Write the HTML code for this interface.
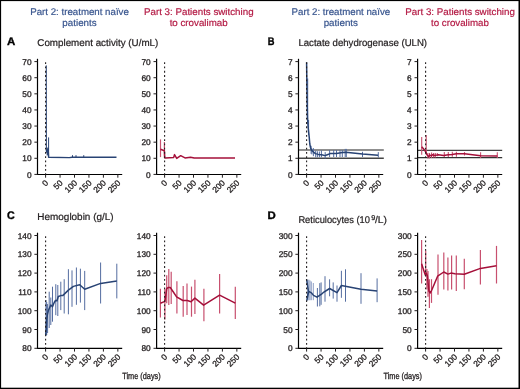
<!DOCTYPE html>
<html><head><meta charset="utf-8"><style>
html,body{margin:0;padding:0;background:#fff;}
svg{display:block;font-family:"Liberation Sans", sans-serif;will-change:transform;text-rendering:geometricPrecision;}
</style></head><body>
<svg width="520" height="389" viewBox="0 0 520 389">
<rect width="520" height="389" fill="#fff"/>
<text x="30.26" y="14.85" font-size="9.7" fill="#38558e" font-weight="normal" textLength="98.58" lengthAdjust="spacingAndGlyphs" stroke="#38558e" stroke-width="0.2">Part 2: treatment naïve</text>
<text x="62.37" y="26.40" font-size="9.7" fill="#38558e" font-weight="normal" textLength="34.28" lengthAdjust="spacingAndGlyphs" stroke="#38558e" stroke-width="0.2">patients</text>
<text x="144.00" y="14.90" font-size="9.7" fill="#b41b45" font-weight="normal" textLength="109.58" lengthAdjust="spacingAndGlyphs" stroke="#b41b45" stroke-width="0.2">Part 3: Patients switching</text>
<text x="169.65" y="26.25" font-size="9.7" fill="#b41b45" font-weight="normal" textLength="57.96" lengthAdjust="spacingAndGlyphs" stroke="#b41b45" stroke-width="0.2">to crovalimab</text>
<text x="291.56" y="14.85" font-size="9.7" fill="#38558e" font-weight="normal" textLength="98.58" lengthAdjust="spacingAndGlyphs" stroke="#38558e" stroke-width="0.2">Part 2: treatment naïve</text>
<text x="323.67" y="26.40" font-size="9.7" fill="#38558e" font-weight="normal" textLength="34.28" lengthAdjust="spacingAndGlyphs" stroke="#38558e" stroke-width="0.2">patients</text>
<text x="405.30" y="14.90" font-size="9.7" fill="#b41b45" font-weight="normal" textLength="109.58" lengthAdjust="spacingAndGlyphs" stroke="#b41b45" stroke-width="0.2">Part 3: Patients switching</text>
<text x="430.95" y="26.25" font-size="9.7" fill="#b41b45" font-weight="normal" textLength="57.96" lengthAdjust="spacingAndGlyphs" stroke="#b41b45" stroke-width="0.2">to crovalimab</text>
<text x="7.11" y="45.20" font-size="11" fill="#000" font-weight="bold" textLength="8.29" lengthAdjust="spacingAndGlyphs" stroke="#000" stroke-width="0.35">A</text>
<text x="267.77" y="45.20" font-size="11" fill="#000" font-weight="bold" textLength="6.75" lengthAdjust="spacingAndGlyphs" stroke="#000" stroke-width="0.35">B</text>
<text x="6.96" y="219.00" font-size="11" fill="#000" font-weight="bold" textLength="7.73" lengthAdjust="spacingAndGlyphs" stroke="#000" stroke-width="0.35">C</text>
<text x="267.64" y="219.00" font-size="11" fill="#000" font-weight="bold" textLength="8.24" lengthAdjust="spacingAndGlyphs" stroke="#000" stroke-width="0.35">D</text>
<text x="37.30" y="46.00" font-size="9.8" fill="#231f20" font-weight="normal" textLength="121.01" lengthAdjust="spacingAndGlyphs" stroke="#231f20" stroke-width="0.22">Complement activity (U/mL)</text>
<text x="298.41" y="46.00" font-size="9.8" fill="#231f20" font-weight="normal" textLength="128.63" lengthAdjust="spacingAndGlyphs" stroke="#231f20" stroke-width="0.22">Lactate dehydrogenase (ULN)</text>
<text x="37.39" y="219.60" font-size="9.8" fill="#231f20" font-weight="normal" textLength="76.18" lengthAdjust="spacingAndGlyphs" stroke="#231f20" stroke-width="0.22">Hemoglobin (g/L)</text>
<text x="298.38" y="223.10" font-size="9.8" fill="#231f20" font-weight="normal" textLength="71.58" lengthAdjust="spacingAndGlyphs" stroke="#231f20" stroke-width="0.22">Reticulocytes (10</text>
<text x="371.35" y="220.30" font-size="7.0" fill="#231f20" font-weight="normal" textLength="4.09" lengthAdjust="spacingAndGlyphs" stroke="#231f20" stroke-width="0.22">9</text>
<text x="374.90" y="223.10" font-size="9.8" fill="#231f20" font-weight="normal" textLength="12.04" lengthAdjust="spacingAndGlyphs" stroke="#231f20" stroke-width="0.22">/L)</text>
<text x="122.24" y="379.40" font-size="9.0" fill="#231f20" font-weight="normal" textLength="38.41" lengthAdjust="spacingAndGlyphs" stroke="#231f20" stroke-width="0.3">Time (days)</text>
<text x="383.54" y="379.40" font-size="9.0" fill="#231f20" font-weight="normal" textLength="38.41" lengthAdjust="spacingAndGlyphs" stroke="#231f20" stroke-width="0.3">Time (days)</text>
<line x1="48.60" y1="137.40" x2="48.60" y2="156.30" stroke="#284374" stroke-width="1.0" stroke-opacity="1.0"/>
<line x1="47.20" y1="148.50" x2="47.20" y2="155.50" stroke="#284374" stroke-width="1.0" stroke-opacity="1.0"/>
<line x1="47.80" y1="147.50" x2="47.80" y2="155.00" stroke="#284374" stroke-width="1.0" stroke-opacity="1.0"/>
<line x1="72.50" y1="155.20" x2="72.50" y2="157.50" stroke="#284374" stroke-width="1.0" stroke-opacity="1.0"/>
<line x1="76.00" y1="155.20" x2="76.00" y2="157.50" stroke="#284374" stroke-width="1.0" stroke-opacity="1.0"/>
<line x1="83.75" y1="155.20" x2="83.75" y2="157.50" stroke="#284374" stroke-width="1.0" stroke-opacity="1.0"/>
<polyline points="46.30,65.40 46.40,150.00" fill="none" stroke="#284374" stroke-width="1.0" stroke-linejoin="round" stroke-linecap="butt"/>
<polyline points="46.40,150.00 46.60,152.00 47.30,150.50 47.80,153.50 48.20,149.00 48.60,157.30 69.40,157.60 72.00,157.20 116.50,157.30" fill="none" stroke="#284374" stroke-width="1.4" stroke-linejoin="round" stroke-linecap="butt"/>
<line x1="160.50" y1="139.40" x2="160.50" y2="157.10" stroke="#c8506f" stroke-width="1.2" stroke-opacity="1.0"/>
<line x1="164.40" y1="142.00" x2="164.40" y2="157.90" stroke="#c8506f" stroke-width="1.2" stroke-opacity="1.0"/>
<polyline points="160.50,149.20 164.40,150.70 164.80,158.00 165.40,158.10 173.70,157.40 174.50,154.60 176.70,158.40 180.70,155.70 185.00,157.90 190.60,157.20 194.20,158.10 235.00,158.10" fill="none" stroke="#a5103a" stroke-width="1.5" stroke-linejoin="round" stroke-linecap="butt"/>
<line x1="298.40" y1="149.90" x2="383.80" y2="149.90" stroke="#6a6a6a" stroke-width="1.5" />
<line x1="298.40" y1="158.30" x2="383.80" y2="158.30" stroke="#454545" stroke-width="1.4" />
<line x1="417.70" y1="150.30" x2="502.20" y2="150.30" stroke="#444444" stroke-width="1.2" />
<line x1="417.70" y1="157.60" x2="502.20" y2="157.60" stroke="#333333" stroke-width="1.2" />
<line x1="307.70" y1="78.50" x2="307.70" y2="122.00" stroke="#546da0" stroke-width="1.0" stroke-opacity="1.0"/>
<line x1="308.60" y1="120.00" x2="308.60" y2="135.00" stroke="#546da0" stroke-width="1.0" stroke-opacity="1.0"/>
<line x1="311.10" y1="145.80" x2="311.10" y2="153.80" stroke="#546da0" stroke-width="1.0" stroke-opacity="1.0"/>
<line x1="311.90" y1="148.70" x2="311.90" y2="154.40" stroke="#546da0" stroke-width="1.0" stroke-opacity="1.0"/>
<line x1="313.40" y1="148.10" x2="313.40" y2="156.20" stroke="#546da0" stroke-width="1.0" stroke-opacity="1.0"/>
<line x1="315.70" y1="150.70" x2="315.70" y2="157.30" stroke="#546da0" stroke-width="1.0" stroke-opacity="1.0"/>
<line x1="317.40" y1="151.25" x2="317.40" y2="157.30" stroke="#546da0" stroke-width="1.0" stroke-opacity="1.0"/>
<line x1="319.40" y1="151.50" x2="319.40" y2="157.30" stroke="#546da0" stroke-width="1.0" stroke-opacity="1.0"/>
<line x1="321.40" y1="150.40" x2="321.40" y2="157.30" stroke="#546da0" stroke-width="1.0" stroke-opacity="1.0"/>
<line x1="325.20" y1="152.10" x2="325.20" y2="158.50" stroke="#546da0" stroke-width="1.0" stroke-opacity="1.0"/>
<line x1="329.60" y1="150.10" x2="329.60" y2="157.00" stroke="#546da0" stroke-width="1.0" stroke-opacity="1.0"/>
<line x1="333.70" y1="150.10" x2="333.70" y2="157.00" stroke="#546da0" stroke-width="1.0" stroke-opacity="1.0"/>
<line x1="336.50" y1="150.10" x2="336.50" y2="157.00" stroke="#546da0" stroke-width="1.0" stroke-opacity="1.0"/>
<line x1="340.00" y1="150.10" x2="340.00" y2="157.00" stroke="#546da0" stroke-width="1.0" stroke-opacity="1.0"/>
<line x1="342.30" y1="150.10" x2="342.30" y2="157.00" stroke="#546da0" stroke-width="1.0" stroke-opacity="1.0"/>
<line x1="345.20" y1="148.90" x2="345.20" y2="157.00" stroke="#546da0" stroke-width="1.0" stroke-opacity="1.0"/>
<line x1="346.30" y1="148.90" x2="346.30" y2="157.00" stroke="#546da0" stroke-width="1.0" stroke-opacity="1.0"/>
<line x1="362.50" y1="151.80" x2="362.50" y2="157.00" stroke="#546da0" stroke-width="1.0" stroke-opacity="1.0"/>
<line x1="378.30" y1="152.10" x2="378.30" y2="157.60" stroke="#546da0" stroke-width="1.0" stroke-opacity="1.0"/>
<polyline points="306.60,62.20 306.80,78.00 307.10,100.00 307.50,118.00 308.20,128.00 309.20,137.00 309.80,144.00 310.50,147.50 311.30,149.80 312.50,151.25 313.90,152.40 315.40,153.60 318.30,154.40 321.70,154.70 325.00,155.60 327.30,154.70 330.20,153.60 336.50,153.50 342.30,152.40 345.80,152.20 362.50,154.10 378.10,155.30" fill="none" stroke="#284374" stroke-width="1.5" stroke-linejoin="round" stroke-linecap="butt"/>
<line x1="421.70" y1="137.00" x2="421.70" y2="154.70" stroke="#c8506f" stroke-width="1.1" stroke-opacity="1.0"/>
<line x1="426.20" y1="134.90" x2="426.20" y2="154.70" stroke="#c8506f" stroke-width="1.1" stroke-opacity="1.0"/>
<line x1="427.90" y1="153.00" x2="427.90" y2="158.40" stroke="#c8506f" stroke-width="1.1" stroke-opacity="1.0"/>
<line x1="429.50" y1="153.00" x2="429.50" y2="158.40" stroke="#c8506f" stroke-width="1.1" stroke-opacity="1.0"/>
<line x1="431.60" y1="152.60" x2="431.60" y2="157.90" stroke="#c8506f" stroke-width="1.1" stroke-opacity="1.0"/>
<line x1="433.60" y1="153.00" x2="433.60" y2="157.50" stroke="#c8506f" stroke-width="1.1" stroke-opacity="1.0"/>
<line x1="435.30" y1="153.00" x2="435.30" y2="157.50" stroke="#c8506f" stroke-width="1.1" stroke-opacity="1.0"/>
<line x1="437.30" y1="153.00" x2="437.30" y2="156.30" stroke="#c8506f" stroke-width="1.1" stroke-opacity="1.0"/>
<line x1="444.30" y1="152.10" x2="444.30" y2="157.10" stroke="#c8506f" stroke-width="1.1" stroke-opacity="1.0"/>
<line x1="448.30" y1="152.10" x2="448.30" y2="157.10" stroke="#c8506f" stroke-width="1.1" stroke-opacity="1.0"/>
<line x1="452.30" y1="151.70" x2="452.30" y2="156.70" stroke="#c8506f" stroke-width="1.1" stroke-opacity="1.0"/>
<line x1="456.40" y1="151.70" x2="456.40" y2="156.70" stroke="#c8506f" stroke-width="1.1" stroke-opacity="1.0"/>
<line x1="464.50" y1="152.10" x2="464.50" y2="155.50" stroke="#c8506f" stroke-width="1.1" stroke-opacity="1.0"/>
<line x1="480.60" y1="152.30" x2="480.60" y2="158.00" stroke="#c8506f" stroke-width="1.1" stroke-opacity="1.0"/>
<line x1="497.30" y1="152.30" x2="497.30" y2="158.00" stroke="#c8506f" stroke-width="1.1" stroke-opacity="1.0"/>
<polyline points="421.70,146.90 423.30,148.50 425.40,151.40 426.60,153.80 427.50,155.50 428.70,156.30 429.90,155.10 431.20,155.90 432.80,154.70 434.40,155.50 436.90,155.10 438.30,154.80 443.70,155.40 448.30,154.80 452.20,154.40 456.40,153.80 464.50,153.80 480.60,155.80 497.30,156.00" fill="none" stroke="#a5103a" stroke-width="1.5" stroke-linejoin="round" stroke-linecap="butt"/>
<line x1="46.00" y1="300.00" x2="46.00" y2="336.00" stroke="#546da0" stroke-width="1.0" stroke-opacity="1.0"/>
<line x1="46.70" y1="302.00" x2="46.70" y2="335.00" stroke="#546da0" stroke-width="1.0" stroke-opacity="1.0"/>
<line x1="47.60" y1="304.00" x2="47.60" y2="333.00" stroke="#546da0" stroke-width="1.0" stroke-opacity="1.0"/>
<line x1="49.20" y1="291.70" x2="49.20" y2="328.00" stroke="#546da0" stroke-width="1.0" stroke-opacity="1.0"/>
<line x1="50.80" y1="297.50" x2="50.80" y2="325.00" stroke="#546da0" stroke-width="1.0" stroke-opacity="1.0"/>
<line x1="52.50" y1="286.70" x2="52.50" y2="321.70" stroke="#546da0" stroke-width="1.0" stroke-opacity="1.0"/>
<line x1="55.80" y1="284.20" x2="55.80" y2="315.20" stroke="#546da0" stroke-width="1.0" stroke-opacity="1.0"/>
<line x1="57.80" y1="285.00" x2="57.80" y2="316.00" stroke="#546da0" stroke-width="1.0" stroke-opacity="1.0"/>
<line x1="60.80" y1="281.70" x2="60.80" y2="310.10" stroke="#546da0" stroke-width="1.0" stroke-opacity="1.0"/>
<line x1="64.20" y1="279.20" x2="64.20" y2="313.50" stroke="#546da0" stroke-width="1.0" stroke-opacity="1.0"/>
<line x1="68.40" y1="269.20" x2="68.40" y2="314.30" stroke="#546da0" stroke-width="1.0" stroke-opacity="1.0"/>
<line x1="72.00" y1="270.40" x2="72.00" y2="306.80" stroke="#546da0" stroke-width="1.0" stroke-opacity="1.0"/>
<line x1="76.40" y1="267.50" x2="76.40" y2="304.80" stroke="#546da0" stroke-width="1.0" stroke-opacity="1.0"/>
<line x1="80.40" y1="268.70" x2="80.40" y2="302.60" stroke="#546da0" stroke-width="1.0" stroke-opacity="1.0"/>
<line x1="84.70" y1="270.90" x2="84.70" y2="310.10" stroke="#546da0" stroke-width="1.0" stroke-opacity="1.0"/>
<line x1="100.60" y1="262.50" x2="100.60" y2="303.50" stroke="#546da0" stroke-width="1.0" stroke-opacity="1.0"/>
<line x1="116.80" y1="263.70" x2="116.80" y2="298.40" stroke="#546da0" stroke-width="1.0" stroke-opacity="1.0"/>
<polyline points="45.70,335.00 46.20,328.00 46.70,320.00 47.50,314.00 48.30,310.80 49.20,308.50 50.80,305.00 52.50,306.70 54.20,302.50 55.50,300.50 57.00,300.80 58.30,296.50 60.80,295.60 63.00,295.40 68.40,290.10 73.40,286.40 79.70,284.70 84.70,289.30 100.60,283.40 116.80,280.90" fill="none" stroke="#284374" stroke-width="1.5" stroke-linejoin="round" stroke-linecap="butt"/>
<line x1="160.40" y1="288.80" x2="160.40" y2="317.60" stroke="#c8506f" stroke-width="1.2" stroke-opacity="1.0"/>
<line x1="164.90" y1="288.80" x2="164.90" y2="319.40" stroke="#c8506f" stroke-width="1.2" stroke-opacity="1.0"/>
<line x1="166.70" y1="275.30" x2="166.70" y2="303.20" stroke="#c8506f" stroke-width="1.2" stroke-opacity="1.0"/>
<line x1="168.80" y1="269.00" x2="168.80" y2="305.00" stroke="#c8506f" stroke-width="1.2" stroke-opacity="1.0"/>
<line x1="171.20" y1="271.70" x2="171.20" y2="304.10" stroke="#c8506f" stroke-width="1.2" stroke-opacity="1.0"/>
<line x1="176.90" y1="281.20" x2="176.90" y2="313.60" stroke="#c8506f" stroke-width="1.2" stroke-opacity="1.0"/>
<line x1="183.20" y1="286.10" x2="183.20" y2="316.70" stroke="#c8506f" stroke-width="1.2" stroke-opacity="1.0"/>
<line x1="187.00" y1="283.40" x2="187.00" y2="314.90" stroke="#c8506f" stroke-width="1.2" stroke-opacity="1.0"/>
<line x1="191.50" y1="286.60" x2="191.50" y2="316.70" stroke="#c8506f" stroke-width="1.2" stroke-opacity="1.0"/>
<line x1="194.90" y1="279.80" x2="194.90" y2="314.00" stroke="#c8506f" stroke-width="1.2" stroke-opacity="1.0"/>
<line x1="203.90" y1="288.80" x2="203.90" y2="321.20" stroke="#c8506f" stroke-width="1.2" stroke-opacity="1.0"/>
<line x1="219.60" y1="273.90" x2="219.60" y2="313.40" stroke="#c8506f" stroke-width="1.2" stroke-opacity="1.0"/>
<line x1="235.30" y1="286.70" x2="235.30" y2="318.90" stroke="#c8506f" stroke-width="1.2" stroke-opacity="1.0"/>
<polyline points="160.40,303.20 164.90,301.40 166.70,288.80 168.30,287.40 170.20,287.40 173.00,291.50 176.60,296.90 182.90,300.50 187.40,300.50 191.00,301.70 194.90,298.10 203.60,305.20 219.60,295.10 235.30,303.10" fill="none" stroke="#a5103a" stroke-width="1.5" stroke-linejoin="round" stroke-linecap="butt"/>
<line x1="307.80" y1="279.70" x2="307.80" y2="300.20" stroke="#7f93bd" stroke-width="0.9" stroke-opacity="1.0"/>
<line x1="308.90" y1="279.70" x2="308.90" y2="300.20" stroke="#7f93bd" stroke-width="0.9" stroke-opacity="1.0"/>
<line x1="310.00" y1="280.50" x2="310.00" y2="300.20" stroke="#7f93bd" stroke-width="0.9" stroke-opacity="1.0"/>
<line x1="311.30" y1="281.50" x2="311.30" y2="300.20" stroke="#7f93bd" stroke-width="0.9" stroke-opacity="1.0"/>
<line x1="313.30" y1="283.00" x2="313.30" y2="300.20" stroke="#7f93bd" stroke-width="0.9" stroke-opacity="1.0"/>
<line x1="317.40" y1="288.00" x2="317.40" y2="306.50" stroke="#546da0" stroke-width="1.0" stroke-opacity="1.0"/>
<line x1="319.80" y1="283.10" x2="319.80" y2="306.30" stroke="#546da0" stroke-width="1.0" stroke-opacity="1.0"/>
<line x1="321.10" y1="282.40" x2="321.10" y2="304.80" stroke="#546da0" stroke-width="1.0" stroke-opacity="1.0"/>
<line x1="325.00" y1="276.20" x2="325.00" y2="301.70" stroke="#546da0" stroke-width="1.0" stroke-opacity="1.0"/>
<line x1="329.60" y1="279.30" x2="329.60" y2="296.30" stroke="#546da0" stroke-width="1.0" stroke-opacity="1.0"/>
<line x1="333.20" y1="282.40" x2="333.20" y2="298.60" stroke="#546da0" stroke-width="1.0" stroke-opacity="1.0"/>
<line x1="337.00" y1="285.50" x2="337.00" y2="301.70" stroke="#546da0" stroke-width="1.0" stroke-opacity="1.0"/>
<line x1="341.40" y1="270.80" x2="341.40" y2="297.80" stroke="#546da0" stroke-width="1.0" stroke-opacity="1.0"/>
<line x1="345.50" y1="269.30" x2="345.50" y2="301.70" stroke="#546da0" stroke-width="1.0" stroke-opacity="1.0"/>
<line x1="361.00" y1="273.20" x2="361.00" y2="303.80" stroke="#546da0" stroke-width="1.0" stroke-opacity="1.0"/>
<line x1="377.10" y1="278.40" x2="377.10" y2="302.20" stroke="#546da0" stroke-width="1.0" stroke-opacity="1.0"/>
<polyline points="306.60,279.50 308.40,291.00 306.90,300.20 308.70,291.50 310.00,292.00 311.70,293.20 313.50,295.40 317.00,297.20 321.50,294.20 323.10,292.70 329.60,288.50 337.00,292.70 341.40,285.50 361.00,289.30 377.10,290.90" fill="none" stroke="#284374" stroke-width="1.5" stroke-linejoin="round" stroke-linecap="butt"/>
<line x1="421.60" y1="240.10" x2="421.60" y2="283.40" stroke="#c8506f" stroke-width="1.2" stroke-opacity="1.0"/>
<line x1="425.70" y1="250.40" x2="425.70" y2="276.20" stroke="#c8506f" stroke-width="1.2" stroke-opacity="1.0"/>
<line x1="426.90" y1="269.00" x2="426.90" y2="289.50" stroke="#c8506f" stroke-width="1.2" stroke-opacity="1.0"/>
<line x1="428.00" y1="271.00" x2="428.00" y2="296.70" stroke="#c8506f" stroke-width="1.2" stroke-opacity="1.0"/>
<line x1="429.40" y1="279.20" x2="429.40" y2="308.00" stroke="#c8506f" stroke-width="1.2" stroke-opacity="1.0"/>
<line x1="431.50" y1="279.20" x2="431.50" y2="302.90" stroke="#c8506f" stroke-width="1.2" stroke-opacity="1.0"/>
<line x1="438.00" y1="254.50" x2="438.00" y2="294.70" stroke="#c8506f" stroke-width="1.2" stroke-opacity="1.0"/>
<line x1="443.80" y1="252.50" x2="443.80" y2="289.50" stroke="#c8506f" stroke-width="1.2" stroke-opacity="1.0"/>
<line x1="447.90" y1="257.60" x2="447.90" y2="290.60" stroke="#c8506f" stroke-width="1.2" stroke-opacity="1.0"/>
<line x1="451.60" y1="255.60" x2="451.60" y2="289.50" stroke="#c8506f" stroke-width="1.2" stroke-opacity="1.0"/>
<line x1="456.30" y1="255.50" x2="456.30" y2="290.90" stroke="#c8506f" stroke-width="1.2" stroke-opacity="1.0"/>
<line x1="464.30" y1="258.80" x2="464.30" y2="289.30" stroke="#c8506f" stroke-width="1.2" stroke-opacity="1.0"/>
<line x1="480.40" y1="250.00" x2="480.40" y2="284.50" stroke="#c8506f" stroke-width="1.2" stroke-opacity="1.0"/>
<line x1="496.50" y1="245.90" x2="496.50" y2="283.50" stroke="#c8506f" stroke-width="1.2" stroke-opacity="1.0"/>
<polyline points="421.60,263.80 423.60,270.00 425.30,275.10 426.30,273.10 427.40,276.00 428.90,291.00 430.20,293.00 431.80,290.00 437.60,276.20 443.80,272.00 447.90,274.10 451.00,273.10 454.90,273.70 464.30,274.20 480.40,268.40 496.50,265.80" fill="none" stroke="#a5103a" stroke-width="1.5" stroke-linejoin="round" stroke-linecap="butt"/>
<line x1="37.50" y1="58.80" x2="37.50" y2="175.00" stroke="#000" stroke-width="1.2" />
<line x1="37.00" y1="174.50" x2="122.20" y2="174.50" stroke="#000" stroke-width="1.1" />
<line x1="34.40" y1="174.40" x2="37.50" y2="174.40" stroke="#231f20" stroke-width="1.0" />
<text x="31.60" y="177.50" font-size="8.3" fill="#231f20" text-anchor="end" font-weight="normal" stroke="#231f20" stroke-width="0.3">0</text>
<line x1="34.40" y1="158.29" x2="37.50" y2="158.29" stroke="#231f20" stroke-width="1.0" />
<text x="31.60" y="161.39" font-size="8.3" fill="#231f20" text-anchor="end" font-weight="normal" stroke="#231f20" stroke-width="0.3">10</text>
<line x1="34.40" y1="142.17" x2="37.50" y2="142.17" stroke="#231f20" stroke-width="1.0" />
<text x="31.60" y="145.27" font-size="8.3" fill="#231f20" text-anchor="end" font-weight="normal" stroke="#231f20" stroke-width="0.3">20</text>
<line x1="34.40" y1="126.06" x2="37.50" y2="126.06" stroke="#231f20" stroke-width="1.0" />
<text x="31.60" y="129.16" font-size="8.3" fill="#231f20" text-anchor="end" font-weight="normal" stroke="#231f20" stroke-width="0.3">30</text>
<line x1="34.40" y1="109.94" x2="37.50" y2="109.94" stroke="#231f20" stroke-width="1.0" />
<text x="31.60" y="113.04" font-size="8.3" fill="#231f20" text-anchor="end" font-weight="normal" stroke="#231f20" stroke-width="0.3">40</text>
<line x1="34.40" y1="93.83" x2="37.50" y2="93.83" stroke="#231f20" stroke-width="1.0" />
<text x="31.60" y="96.93" font-size="8.3" fill="#231f20" text-anchor="end" font-weight="normal" stroke="#231f20" stroke-width="0.3">50</text>
<line x1="34.40" y1="77.71" x2="37.50" y2="77.71" stroke="#231f20" stroke-width="1.0" />
<text x="31.60" y="80.81" font-size="8.3" fill="#231f20" text-anchor="end" font-weight="normal" stroke="#231f20" stroke-width="0.3">60</text>
<line x1="34.40" y1="61.60" x2="37.50" y2="61.60" stroke="#231f20" stroke-width="1.0" />
<text x="31.60" y="64.70" font-size="8.3" fill="#231f20" text-anchor="end" font-weight="normal" stroke="#231f20" stroke-width="0.3">70</text>
<line x1="45.60" y1="174.40" x2="45.60" y2="177.70" stroke="#231f20" stroke-width="1.0" />
<text x="48.80" y="183.50" font-size="8.3" fill="#231f20" text-anchor="end" transform="rotate(-45 48.80 183.50)" stroke="#231f20" stroke-width="0.3">0</text>
<line x1="60.05" y1="174.40" x2="60.05" y2="177.70" stroke="#231f20" stroke-width="1.0" />
<text x="63.25" y="183.50" font-size="8.3" fill="#231f20" text-anchor="end" transform="rotate(-45 63.25 183.50)" stroke="#231f20" stroke-width="0.3">50</text>
<line x1="74.50" y1="174.40" x2="74.50" y2="177.70" stroke="#231f20" stroke-width="1.0" />
<text x="77.70" y="183.50" font-size="8.3" fill="#231f20" text-anchor="end" transform="rotate(-45 77.70 183.50)" stroke="#231f20" stroke-width="0.3">100</text>
<line x1="88.95" y1="174.40" x2="88.95" y2="177.70" stroke="#231f20" stroke-width="1.0" />
<text x="92.15" y="183.50" font-size="8.3" fill="#231f20" text-anchor="end" transform="rotate(-45 92.15 183.50)" stroke="#231f20" stroke-width="0.3">150</text>
<line x1="103.40" y1="174.40" x2="103.40" y2="177.70" stroke="#231f20" stroke-width="1.0" />
<text x="106.60" y="183.50" font-size="8.3" fill="#231f20" text-anchor="end" transform="rotate(-45 106.60 183.50)" stroke="#231f20" stroke-width="0.3">200</text>
<line x1="117.85" y1="174.40" x2="117.85" y2="177.70" stroke="#231f20" stroke-width="1.0" />
<text x="121.05" y="183.50" font-size="8.3" fill="#231f20" text-anchor="end" transform="rotate(-45 121.05 183.50)" stroke="#231f20" stroke-width="0.3">250</text>
<line x1="45.60" y1="62.30" x2="45.60" y2="174.40" stroke="#231f20" stroke-width="1.1" stroke-dasharray="1.8 2.47"/>
<line x1="37.50" y1="232.70" x2="37.50" y2="348.90" stroke="#000" stroke-width="1.2" />
<line x1="37.00" y1="348.40" x2="122.20" y2="348.40" stroke="#000" stroke-width="1.1" />
<line x1="34.40" y1="348.30" x2="37.50" y2="348.30" stroke="#231f20" stroke-width="1.0" />
<text x="31.60" y="351.40" font-size="8.3" fill="#231f20" text-anchor="end" font-weight="normal" stroke="#231f20" stroke-width="0.3">80</text>
<line x1="34.40" y1="329.50" x2="37.50" y2="329.50" stroke="#231f20" stroke-width="1.0" />
<text x="31.60" y="332.60" font-size="8.3" fill="#231f20" text-anchor="end" font-weight="normal" stroke="#231f20" stroke-width="0.3">90</text>
<line x1="34.40" y1="310.70" x2="37.50" y2="310.70" stroke="#231f20" stroke-width="1.0" />
<text x="31.60" y="313.80" font-size="8.3" fill="#231f20" text-anchor="end" font-weight="normal" stroke="#231f20" stroke-width="0.3">100</text>
<line x1="34.40" y1="291.90" x2="37.50" y2="291.90" stroke="#231f20" stroke-width="1.0" />
<text x="31.60" y="295.00" font-size="8.3" fill="#231f20" text-anchor="end" font-weight="normal" stroke="#231f20" stroke-width="0.3">110</text>
<line x1="34.40" y1="273.10" x2="37.50" y2="273.10" stroke="#231f20" stroke-width="1.0" />
<text x="31.60" y="276.20" font-size="8.3" fill="#231f20" text-anchor="end" font-weight="normal" stroke="#231f20" stroke-width="0.3">120</text>
<line x1="34.40" y1="254.30" x2="37.50" y2="254.30" stroke="#231f20" stroke-width="1.0" />
<text x="31.60" y="257.40" font-size="8.3" fill="#231f20" text-anchor="end" font-weight="normal" stroke="#231f20" stroke-width="0.3">130</text>
<line x1="34.40" y1="235.50" x2="37.50" y2="235.50" stroke="#231f20" stroke-width="1.0" />
<text x="31.60" y="238.60" font-size="8.3" fill="#231f20" text-anchor="end" font-weight="normal" stroke="#231f20" stroke-width="0.3">140</text>
<line x1="45.60" y1="348.30" x2="45.60" y2="351.60" stroke="#231f20" stroke-width="1.0" />
<text x="48.80" y="357.40" font-size="8.3" fill="#231f20" text-anchor="end" transform="rotate(-45 48.80 357.40)" stroke="#231f20" stroke-width="0.3">0</text>
<line x1="60.05" y1="348.30" x2="60.05" y2="351.60" stroke="#231f20" stroke-width="1.0" />
<text x="63.25" y="357.40" font-size="8.3" fill="#231f20" text-anchor="end" transform="rotate(-45 63.25 357.40)" stroke="#231f20" stroke-width="0.3">50</text>
<line x1="74.50" y1="348.30" x2="74.50" y2="351.60" stroke="#231f20" stroke-width="1.0" />
<text x="77.70" y="357.40" font-size="8.3" fill="#231f20" text-anchor="end" transform="rotate(-45 77.70 357.40)" stroke="#231f20" stroke-width="0.3">100</text>
<line x1="88.95" y1="348.30" x2="88.95" y2="351.60" stroke="#231f20" stroke-width="1.0" />
<text x="92.15" y="357.40" font-size="8.3" fill="#231f20" text-anchor="end" transform="rotate(-45 92.15 357.40)" stroke="#231f20" stroke-width="0.3">150</text>
<line x1="103.40" y1="348.30" x2="103.40" y2="351.60" stroke="#231f20" stroke-width="1.0" />
<text x="106.60" y="357.40" font-size="8.3" fill="#231f20" text-anchor="end" transform="rotate(-45 106.60 357.40)" stroke="#231f20" stroke-width="0.3">200</text>
<line x1="117.85" y1="348.30" x2="117.85" y2="351.60" stroke="#231f20" stroke-width="1.0" />
<text x="121.05" y="357.40" font-size="8.3" fill="#231f20" text-anchor="end" transform="rotate(-45 121.05 357.40)" stroke="#231f20" stroke-width="0.3">250</text>
<line x1="45.60" y1="236.20" x2="45.60" y2="348.30" stroke="#231f20" stroke-width="1.1" stroke-dasharray="1.8 2.47"/>
<line x1="156.60" y1="58.80" x2="156.60" y2="175.00" stroke="#000" stroke-width="1.2" />
<line x1="156.10" y1="174.50" x2="241.20" y2="174.50" stroke="#000" stroke-width="1.1" />
<line x1="153.50" y1="174.40" x2="156.60" y2="174.40" stroke="#231f20" stroke-width="1.0" />
<text x="150.70" y="177.50" font-size="8.3" fill="#231f20" text-anchor="end" font-weight="normal" stroke="#231f20" stroke-width="0.3">0</text>
<line x1="153.50" y1="158.29" x2="156.60" y2="158.29" stroke="#231f20" stroke-width="1.0" />
<text x="150.70" y="161.39" font-size="8.3" fill="#231f20" text-anchor="end" font-weight="normal" stroke="#231f20" stroke-width="0.3">10</text>
<line x1="153.50" y1="142.17" x2="156.60" y2="142.17" stroke="#231f20" stroke-width="1.0" />
<text x="150.70" y="145.27" font-size="8.3" fill="#231f20" text-anchor="end" font-weight="normal" stroke="#231f20" stroke-width="0.3">20</text>
<line x1="153.50" y1="126.06" x2="156.60" y2="126.06" stroke="#231f20" stroke-width="1.0" />
<text x="150.70" y="129.16" font-size="8.3" fill="#231f20" text-anchor="end" font-weight="normal" stroke="#231f20" stroke-width="0.3">30</text>
<line x1="153.50" y1="109.94" x2="156.60" y2="109.94" stroke="#231f20" stroke-width="1.0" />
<text x="150.70" y="113.04" font-size="8.3" fill="#231f20" text-anchor="end" font-weight="normal" stroke="#231f20" stroke-width="0.3">40</text>
<line x1="153.50" y1="93.83" x2="156.60" y2="93.83" stroke="#231f20" stroke-width="1.0" />
<text x="150.70" y="96.93" font-size="8.3" fill="#231f20" text-anchor="end" font-weight="normal" stroke="#231f20" stroke-width="0.3">50</text>
<line x1="153.50" y1="77.71" x2="156.60" y2="77.71" stroke="#231f20" stroke-width="1.0" />
<text x="150.70" y="80.81" font-size="8.3" fill="#231f20" text-anchor="end" font-weight="normal" stroke="#231f20" stroke-width="0.3">60</text>
<line x1="153.50" y1="61.60" x2="156.60" y2="61.60" stroke="#231f20" stroke-width="1.0" />
<text x="150.70" y="64.70" font-size="8.3" fill="#231f20" text-anchor="end" font-weight="normal" stroke="#231f20" stroke-width="0.3">70</text>
<line x1="164.60" y1="174.40" x2="164.60" y2="177.70" stroke="#231f20" stroke-width="1.0" />
<text x="167.80" y="183.50" font-size="8.3" fill="#231f20" text-anchor="end" transform="rotate(-45 167.80 183.50)" stroke="#231f20" stroke-width="0.3">0</text>
<line x1="179.05" y1="174.40" x2="179.05" y2="177.70" stroke="#231f20" stroke-width="1.0" />
<text x="182.25" y="183.50" font-size="8.3" fill="#231f20" text-anchor="end" transform="rotate(-45 182.25 183.50)" stroke="#231f20" stroke-width="0.3">50</text>
<line x1="193.50" y1="174.40" x2="193.50" y2="177.70" stroke="#231f20" stroke-width="1.0" />
<text x="196.70" y="183.50" font-size="8.3" fill="#231f20" text-anchor="end" transform="rotate(-45 196.70 183.50)" stroke="#231f20" stroke-width="0.3">100</text>
<line x1="207.95" y1="174.40" x2="207.95" y2="177.70" stroke="#231f20" stroke-width="1.0" />
<text x="211.15" y="183.50" font-size="8.3" fill="#231f20" text-anchor="end" transform="rotate(-45 211.15 183.50)" stroke="#231f20" stroke-width="0.3">150</text>
<line x1="222.40" y1="174.40" x2="222.40" y2="177.70" stroke="#231f20" stroke-width="1.0" />
<text x="225.60" y="183.50" font-size="8.3" fill="#231f20" text-anchor="end" transform="rotate(-45 225.60 183.50)" stroke="#231f20" stroke-width="0.3">200</text>
<line x1="236.85" y1="174.40" x2="236.85" y2="177.70" stroke="#231f20" stroke-width="1.0" />
<text x="240.05" y="183.50" font-size="8.3" fill="#231f20" text-anchor="end" transform="rotate(-45 240.05 183.50)" stroke="#231f20" stroke-width="0.3">250</text>
<line x1="164.60" y1="62.30" x2="164.60" y2="174.40" stroke="#231f20" stroke-width="1.1" stroke-dasharray="1.8 2.47"/>
<line x1="156.60" y1="232.70" x2="156.60" y2="348.90" stroke="#000" stroke-width="1.2" />
<line x1="156.10" y1="348.40" x2="241.20" y2="348.40" stroke="#000" stroke-width="1.1" />
<line x1="153.50" y1="348.30" x2="156.60" y2="348.30" stroke="#231f20" stroke-width="1.0" />
<text x="150.70" y="351.40" font-size="8.3" fill="#231f20" text-anchor="end" font-weight="normal" stroke="#231f20" stroke-width="0.3">80</text>
<line x1="153.50" y1="329.50" x2="156.60" y2="329.50" stroke="#231f20" stroke-width="1.0" />
<text x="150.70" y="332.60" font-size="8.3" fill="#231f20" text-anchor="end" font-weight="normal" stroke="#231f20" stroke-width="0.3">90</text>
<line x1="153.50" y1="310.70" x2="156.60" y2="310.70" stroke="#231f20" stroke-width="1.0" />
<text x="150.70" y="313.80" font-size="8.3" fill="#231f20" text-anchor="end" font-weight="normal" stroke="#231f20" stroke-width="0.3">100</text>
<line x1="153.50" y1="291.90" x2="156.60" y2="291.90" stroke="#231f20" stroke-width="1.0" />
<text x="150.70" y="295.00" font-size="8.3" fill="#231f20" text-anchor="end" font-weight="normal" stroke="#231f20" stroke-width="0.3">110</text>
<line x1="153.50" y1="273.10" x2="156.60" y2="273.10" stroke="#231f20" stroke-width="1.0" />
<text x="150.70" y="276.20" font-size="8.3" fill="#231f20" text-anchor="end" font-weight="normal" stroke="#231f20" stroke-width="0.3">120</text>
<line x1="153.50" y1="254.30" x2="156.60" y2="254.30" stroke="#231f20" stroke-width="1.0" />
<text x="150.70" y="257.40" font-size="8.3" fill="#231f20" text-anchor="end" font-weight="normal" stroke="#231f20" stroke-width="0.3">130</text>
<line x1="153.50" y1="235.50" x2="156.60" y2="235.50" stroke="#231f20" stroke-width="1.0" />
<text x="150.70" y="238.60" font-size="8.3" fill="#231f20" text-anchor="end" font-weight="normal" stroke="#231f20" stroke-width="0.3">140</text>
<line x1="164.60" y1="348.30" x2="164.60" y2="351.60" stroke="#231f20" stroke-width="1.0" />
<text x="167.80" y="357.40" font-size="8.3" fill="#231f20" text-anchor="end" transform="rotate(-45 167.80 357.40)" stroke="#231f20" stroke-width="0.3">0</text>
<line x1="179.05" y1="348.30" x2="179.05" y2="351.60" stroke="#231f20" stroke-width="1.0" />
<text x="182.25" y="357.40" font-size="8.3" fill="#231f20" text-anchor="end" transform="rotate(-45 182.25 357.40)" stroke="#231f20" stroke-width="0.3">50</text>
<line x1="193.50" y1="348.30" x2="193.50" y2="351.60" stroke="#231f20" stroke-width="1.0" />
<text x="196.70" y="357.40" font-size="8.3" fill="#231f20" text-anchor="end" transform="rotate(-45 196.70 357.40)" stroke="#231f20" stroke-width="0.3">100</text>
<line x1="207.95" y1="348.30" x2="207.95" y2="351.60" stroke="#231f20" stroke-width="1.0" />
<text x="211.15" y="357.40" font-size="8.3" fill="#231f20" text-anchor="end" transform="rotate(-45 211.15 357.40)" stroke="#231f20" stroke-width="0.3">150</text>
<line x1="222.40" y1="348.30" x2="222.40" y2="351.60" stroke="#231f20" stroke-width="1.0" />
<text x="225.60" y="357.40" font-size="8.3" fill="#231f20" text-anchor="end" transform="rotate(-45 225.60 357.40)" stroke="#231f20" stroke-width="0.3">200</text>
<line x1="236.85" y1="348.30" x2="236.85" y2="351.60" stroke="#231f20" stroke-width="1.0" />
<text x="240.05" y="357.40" font-size="8.3" fill="#231f20" text-anchor="end" transform="rotate(-45 240.05 357.40)" stroke="#231f20" stroke-width="0.3">250</text>
<line x1="164.60" y1="236.20" x2="164.60" y2="348.30" stroke="#231f20" stroke-width="1.1" stroke-dasharray="1.8 2.47"/>
<line x1="298.50" y1="58.80" x2="298.50" y2="175.00" stroke="#000" stroke-width="1.2" />
<line x1="298.00" y1="174.50" x2="383.20" y2="174.50" stroke="#000" stroke-width="1.1" />
<line x1="295.40" y1="174.40" x2="298.50" y2="174.40" stroke="#231f20" stroke-width="1.0" />
<text x="292.60" y="177.50" font-size="8.3" fill="#231f20" text-anchor="end" font-weight="normal" stroke="#231f20" stroke-width="0.3">0</text>
<line x1="295.40" y1="158.29" x2="298.50" y2="158.29" stroke="#231f20" stroke-width="1.0" />
<text x="292.60" y="161.39" font-size="8.3" fill="#231f20" text-anchor="end" font-weight="normal" stroke="#231f20" stroke-width="0.3">1</text>
<line x1="295.40" y1="142.17" x2="298.50" y2="142.17" stroke="#231f20" stroke-width="1.0" />
<text x="292.60" y="145.27" font-size="8.3" fill="#231f20" text-anchor="end" font-weight="normal" stroke="#231f20" stroke-width="0.3">2</text>
<line x1="295.40" y1="126.06" x2="298.50" y2="126.06" stroke="#231f20" stroke-width="1.0" />
<text x="292.60" y="129.16" font-size="8.3" fill="#231f20" text-anchor="end" font-weight="normal" stroke="#231f20" stroke-width="0.3">3</text>
<line x1="295.40" y1="109.94" x2="298.50" y2="109.94" stroke="#231f20" stroke-width="1.0" />
<text x="292.60" y="113.04" font-size="8.3" fill="#231f20" text-anchor="end" font-weight="normal" stroke="#231f20" stroke-width="0.3">4</text>
<line x1="295.40" y1="93.83" x2="298.50" y2="93.83" stroke="#231f20" stroke-width="1.0" />
<text x="292.60" y="96.93" font-size="8.3" fill="#231f20" text-anchor="end" font-weight="normal" stroke="#231f20" stroke-width="0.3">5</text>
<line x1="295.40" y1="77.71" x2="298.50" y2="77.71" stroke="#231f20" stroke-width="1.0" />
<text x="292.60" y="80.81" font-size="8.3" fill="#231f20" text-anchor="end" font-weight="normal" stroke="#231f20" stroke-width="0.3">6</text>
<line x1="295.40" y1="61.60" x2="298.50" y2="61.60" stroke="#231f20" stroke-width="1.0" />
<text x="292.60" y="64.70" font-size="8.3" fill="#231f20" text-anchor="end" font-weight="normal" stroke="#231f20" stroke-width="0.3">7</text>
<line x1="306.60" y1="174.40" x2="306.60" y2="177.70" stroke="#231f20" stroke-width="1.0" />
<text x="309.80" y="183.50" font-size="8.3" fill="#231f20" text-anchor="end" transform="rotate(-45 309.80 183.50)" stroke="#231f20" stroke-width="0.3">0</text>
<line x1="321.05" y1="174.40" x2="321.05" y2="177.70" stroke="#231f20" stroke-width="1.0" />
<text x="324.25" y="183.50" font-size="8.3" fill="#231f20" text-anchor="end" transform="rotate(-45 324.25 183.50)" stroke="#231f20" stroke-width="0.3">50</text>
<line x1="335.50" y1="174.40" x2="335.50" y2="177.70" stroke="#231f20" stroke-width="1.0" />
<text x="338.70" y="183.50" font-size="8.3" fill="#231f20" text-anchor="end" transform="rotate(-45 338.70 183.50)" stroke="#231f20" stroke-width="0.3">100</text>
<line x1="349.95" y1="174.40" x2="349.95" y2="177.70" stroke="#231f20" stroke-width="1.0" />
<text x="353.15" y="183.50" font-size="8.3" fill="#231f20" text-anchor="end" transform="rotate(-45 353.15 183.50)" stroke="#231f20" stroke-width="0.3">150</text>
<line x1="364.40" y1="174.40" x2="364.40" y2="177.70" stroke="#231f20" stroke-width="1.0" />
<text x="367.60" y="183.50" font-size="8.3" fill="#231f20" text-anchor="end" transform="rotate(-45 367.60 183.50)" stroke="#231f20" stroke-width="0.3">200</text>
<line x1="378.85" y1="174.40" x2="378.85" y2="177.70" stroke="#231f20" stroke-width="1.0" />
<text x="382.05" y="183.50" font-size="8.3" fill="#231f20" text-anchor="end" transform="rotate(-45 382.05 183.50)" stroke="#231f20" stroke-width="0.3">250</text>
<line x1="306.60" y1="62.30" x2="306.60" y2="174.40" stroke="#231f20" stroke-width="1.1" stroke-dasharray="1.8 2.47"/>
<line x1="298.50" y1="232.70" x2="298.50" y2="348.90" stroke="#000" stroke-width="1.2" />
<line x1="298.00" y1="348.40" x2="383.20" y2="348.40" stroke="#000" stroke-width="1.1" />
<line x1="295.40" y1="348.30" x2="298.50" y2="348.30" stroke="#231f20" stroke-width="1.0" />
<text x="292.60" y="351.40" font-size="8.3" fill="#231f20" text-anchor="end" font-weight="normal" stroke="#231f20" stroke-width="0.3">0</text>
<line x1="295.40" y1="329.50" x2="298.50" y2="329.50" stroke="#231f20" stroke-width="1.0" />
<text x="292.60" y="332.60" font-size="8.3" fill="#231f20" text-anchor="end" font-weight="normal" stroke="#231f20" stroke-width="0.3">50</text>
<line x1="295.40" y1="310.70" x2="298.50" y2="310.70" stroke="#231f20" stroke-width="1.0" />
<text x="292.60" y="313.80" font-size="8.3" fill="#231f20" text-anchor="end" font-weight="normal" stroke="#231f20" stroke-width="0.3">100</text>
<line x1="295.40" y1="291.90" x2="298.50" y2="291.90" stroke="#231f20" stroke-width="1.0" />
<text x="292.60" y="295.00" font-size="8.3" fill="#231f20" text-anchor="end" font-weight="normal" stroke="#231f20" stroke-width="0.3">150</text>
<line x1="295.40" y1="273.10" x2="298.50" y2="273.10" stroke="#231f20" stroke-width="1.0" />
<text x="292.60" y="276.20" font-size="8.3" fill="#231f20" text-anchor="end" font-weight="normal" stroke="#231f20" stroke-width="0.3">200</text>
<line x1="295.40" y1="254.30" x2="298.50" y2="254.30" stroke="#231f20" stroke-width="1.0" />
<text x="292.60" y="257.40" font-size="8.3" fill="#231f20" text-anchor="end" font-weight="normal" stroke="#231f20" stroke-width="0.3">250</text>
<line x1="295.40" y1="235.50" x2="298.50" y2="235.50" stroke="#231f20" stroke-width="1.0" />
<text x="292.60" y="238.60" font-size="8.3" fill="#231f20" text-anchor="end" font-weight="normal" stroke="#231f20" stroke-width="0.3">300</text>
<line x1="306.60" y1="348.30" x2="306.60" y2="351.60" stroke="#231f20" stroke-width="1.0" />
<text x="309.80" y="357.40" font-size="8.3" fill="#231f20" text-anchor="end" transform="rotate(-45 309.80 357.40)" stroke="#231f20" stroke-width="0.3">0</text>
<line x1="321.05" y1="348.30" x2="321.05" y2="351.60" stroke="#231f20" stroke-width="1.0" />
<text x="324.25" y="357.40" font-size="8.3" fill="#231f20" text-anchor="end" transform="rotate(-45 324.25 357.40)" stroke="#231f20" stroke-width="0.3">50</text>
<line x1="335.50" y1="348.30" x2="335.50" y2="351.60" stroke="#231f20" stroke-width="1.0" />
<text x="338.70" y="357.40" font-size="8.3" fill="#231f20" text-anchor="end" transform="rotate(-45 338.70 357.40)" stroke="#231f20" stroke-width="0.3">100</text>
<line x1="349.95" y1="348.30" x2="349.95" y2="351.60" stroke="#231f20" stroke-width="1.0" />
<text x="353.15" y="357.40" font-size="8.3" fill="#231f20" text-anchor="end" transform="rotate(-45 353.15 357.40)" stroke="#231f20" stroke-width="0.3">150</text>
<line x1="364.40" y1="348.30" x2="364.40" y2="351.60" stroke="#231f20" stroke-width="1.0" />
<text x="367.60" y="357.40" font-size="8.3" fill="#231f20" text-anchor="end" transform="rotate(-45 367.60 357.40)" stroke="#231f20" stroke-width="0.3">200</text>
<line x1="378.85" y1="348.30" x2="378.85" y2="351.60" stroke="#231f20" stroke-width="1.0" />
<text x="382.05" y="357.40" font-size="8.3" fill="#231f20" text-anchor="end" transform="rotate(-45 382.05 357.40)" stroke="#231f20" stroke-width="0.3">250</text>
<line x1="306.60" y1="236.20" x2="306.60" y2="348.30" stroke="#231f20" stroke-width="1.1" stroke-dasharray="1.8 2.47"/>
<line x1="417.60" y1="58.80" x2="417.60" y2="175.00" stroke="#000" stroke-width="1.2" />
<line x1="417.10" y1="174.50" x2="502.20" y2="174.50" stroke="#000" stroke-width="1.1" />
<line x1="414.50" y1="174.40" x2="417.60" y2="174.40" stroke="#231f20" stroke-width="1.0" />
<text x="411.70" y="177.50" font-size="8.3" fill="#231f20" text-anchor="end" font-weight="normal" stroke="#231f20" stroke-width="0.3">0</text>
<line x1="414.50" y1="158.29" x2="417.60" y2="158.29" stroke="#231f20" stroke-width="1.0" />
<text x="411.70" y="161.39" font-size="8.3" fill="#231f20" text-anchor="end" font-weight="normal" stroke="#231f20" stroke-width="0.3">1</text>
<line x1="414.50" y1="142.17" x2="417.60" y2="142.17" stroke="#231f20" stroke-width="1.0" />
<text x="411.70" y="145.27" font-size="8.3" fill="#231f20" text-anchor="end" font-weight="normal" stroke="#231f20" stroke-width="0.3">2</text>
<line x1="414.50" y1="126.06" x2="417.60" y2="126.06" stroke="#231f20" stroke-width="1.0" />
<text x="411.70" y="129.16" font-size="8.3" fill="#231f20" text-anchor="end" font-weight="normal" stroke="#231f20" stroke-width="0.3">3</text>
<line x1="414.50" y1="109.94" x2="417.60" y2="109.94" stroke="#231f20" stroke-width="1.0" />
<text x="411.70" y="113.04" font-size="8.3" fill="#231f20" text-anchor="end" font-weight="normal" stroke="#231f20" stroke-width="0.3">4</text>
<line x1="414.50" y1="93.83" x2="417.60" y2="93.83" stroke="#231f20" stroke-width="1.0" />
<text x="411.70" y="96.93" font-size="8.3" fill="#231f20" text-anchor="end" font-weight="normal" stroke="#231f20" stroke-width="0.3">5</text>
<line x1="414.50" y1="77.71" x2="417.60" y2="77.71" stroke="#231f20" stroke-width="1.0" />
<text x="411.70" y="80.81" font-size="8.3" fill="#231f20" text-anchor="end" font-weight="normal" stroke="#231f20" stroke-width="0.3">6</text>
<line x1="414.50" y1="61.60" x2="417.60" y2="61.60" stroke="#231f20" stroke-width="1.0" />
<text x="411.70" y="64.70" font-size="8.3" fill="#231f20" text-anchor="end" font-weight="normal" stroke="#231f20" stroke-width="0.3">7</text>
<line x1="425.60" y1="174.40" x2="425.60" y2="177.70" stroke="#231f20" stroke-width="1.0" />
<text x="428.80" y="183.50" font-size="8.3" fill="#231f20" text-anchor="end" transform="rotate(-45 428.80 183.50)" stroke="#231f20" stroke-width="0.3">0</text>
<line x1="440.05" y1="174.40" x2="440.05" y2="177.70" stroke="#231f20" stroke-width="1.0" />
<text x="443.25" y="183.50" font-size="8.3" fill="#231f20" text-anchor="end" transform="rotate(-45 443.25 183.50)" stroke="#231f20" stroke-width="0.3">50</text>
<line x1="454.50" y1="174.40" x2="454.50" y2="177.70" stroke="#231f20" stroke-width="1.0" />
<text x="457.70" y="183.50" font-size="8.3" fill="#231f20" text-anchor="end" transform="rotate(-45 457.70 183.50)" stroke="#231f20" stroke-width="0.3">100</text>
<line x1="468.95" y1="174.40" x2="468.95" y2="177.70" stroke="#231f20" stroke-width="1.0" />
<text x="472.15" y="183.50" font-size="8.3" fill="#231f20" text-anchor="end" transform="rotate(-45 472.15 183.50)" stroke="#231f20" stroke-width="0.3">150</text>
<line x1="483.40" y1="174.40" x2="483.40" y2="177.70" stroke="#231f20" stroke-width="1.0" />
<text x="486.60" y="183.50" font-size="8.3" fill="#231f20" text-anchor="end" transform="rotate(-45 486.60 183.50)" stroke="#231f20" stroke-width="0.3">200</text>
<line x1="497.85" y1="174.40" x2="497.85" y2="177.70" stroke="#231f20" stroke-width="1.0" />
<text x="501.05" y="183.50" font-size="8.3" fill="#231f20" text-anchor="end" transform="rotate(-45 501.05 183.50)" stroke="#231f20" stroke-width="0.3">250</text>
<line x1="425.60" y1="62.30" x2="425.60" y2="174.40" stroke="#231f20" stroke-width="1.1" stroke-dasharray="1.8 2.47"/>
<line x1="417.60" y1="232.70" x2="417.60" y2="348.90" stroke="#000" stroke-width="1.2" />
<line x1="417.10" y1="348.40" x2="502.20" y2="348.40" stroke="#000" stroke-width="1.1" />
<line x1="414.50" y1="348.30" x2="417.60" y2="348.30" stroke="#231f20" stroke-width="1.0" />
<text x="411.70" y="351.40" font-size="8.3" fill="#231f20" text-anchor="end" font-weight="normal" stroke="#231f20" stroke-width="0.3">0</text>
<line x1="414.50" y1="329.50" x2="417.60" y2="329.50" stroke="#231f20" stroke-width="1.0" />
<text x="411.70" y="332.60" font-size="8.3" fill="#231f20" text-anchor="end" font-weight="normal" stroke="#231f20" stroke-width="0.3">50</text>
<line x1="414.50" y1="310.70" x2="417.60" y2="310.70" stroke="#231f20" stroke-width="1.0" />
<text x="411.70" y="313.80" font-size="8.3" fill="#231f20" text-anchor="end" font-weight="normal" stroke="#231f20" stroke-width="0.3">100</text>
<line x1="414.50" y1="291.90" x2="417.60" y2="291.90" stroke="#231f20" stroke-width="1.0" />
<text x="411.70" y="295.00" font-size="8.3" fill="#231f20" text-anchor="end" font-weight="normal" stroke="#231f20" stroke-width="0.3">150</text>
<line x1="414.50" y1="273.10" x2="417.60" y2="273.10" stroke="#231f20" stroke-width="1.0" />
<text x="411.70" y="276.20" font-size="8.3" fill="#231f20" text-anchor="end" font-weight="normal" stroke="#231f20" stroke-width="0.3">200</text>
<line x1="414.50" y1="254.30" x2="417.60" y2="254.30" stroke="#231f20" stroke-width="1.0" />
<text x="411.70" y="257.40" font-size="8.3" fill="#231f20" text-anchor="end" font-weight="normal" stroke="#231f20" stroke-width="0.3">250</text>
<line x1="414.50" y1="235.50" x2="417.60" y2="235.50" stroke="#231f20" stroke-width="1.0" />
<text x="411.70" y="238.60" font-size="8.3" fill="#231f20" text-anchor="end" font-weight="normal" stroke="#231f20" stroke-width="0.3">300</text>
<line x1="425.60" y1="348.30" x2="425.60" y2="351.60" stroke="#231f20" stroke-width="1.0" />
<text x="428.80" y="357.40" font-size="8.3" fill="#231f20" text-anchor="end" transform="rotate(-45 428.80 357.40)" stroke="#231f20" stroke-width="0.3">0</text>
<line x1="440.05" y1="348.30" x2="440.05" y2="351.60" stroke="#231f20" stroke-width="1.0" />
<text x="443.25" y="357.40" font-size="8.3" fill="#231f20" text-anchor="end" transform="rotate(-45 443.25 357.40)" stroke="#231f20" stroke-width="0.3">50</text>
<line x1="454.50" y1="348.30" x2="454.50" y2="351.60" stroke="#231f20" stroke-width="1.0" />
<text x="457.70" y="357.40" font-size="8.3" fill="#231f20" text-anchor="end" transform="rotate(-45 457.70 357.40)" stroke="#231f20" stroke-width="0.3">100</text>
<line x1="468.95" y1="348.30" x2="468.95" y2="351.60" stroke="#231f20" stroke-width="1.0" />
<text x="472.15" y="357.40" font-size="8.3" fill="#231f20" text-anchor="end" transform="rotate(-45 472.15 357.40)" stroke="#231f20" stroke-width="0.3">150</text>
<line x1="483.40" y1="348.30" x2="483.40" y2="351.60" stroke="#231f20" stroke-width="1.0" />
<text x="486.60" y="357.40" font-size="8.3" fill="#231f20" text-anchor="end" transform="rotate(-45 486.60 357.40)" stroke="#231f20" stroke-width="0.3">200</text>
<line x1="497.85" y1="348.30" x2="497.85" y2="351.60" stroke="#231f20" stroke-width="1.0" />
<text x="501.05" y="357.40" font-size="8.3" fill="#231f20" text-anchor="end" transform="rotate(-45 501.05 357.40)" stroke="#231f20" stroke-width="0.3">250</text>
<line x1="425.60" y1="236.20" x2="425.60" y2="348.30" stroke="#231f20" stroke-width="1.1" stroke-dasharray="1.8 2.47"/>
<rect x="0" y="0" width="1.1" height="389" fill="#000"/>
<rect x="0" y="0" width="520" height="1.1" fill="#000"/>
<rect x="518.5" y="0" width="1.5" height="389" fill="#000"/>
<rect x="0" y="387.7" width="520" height="1.3" fill="#000"/>
</svg>
</body></html>
